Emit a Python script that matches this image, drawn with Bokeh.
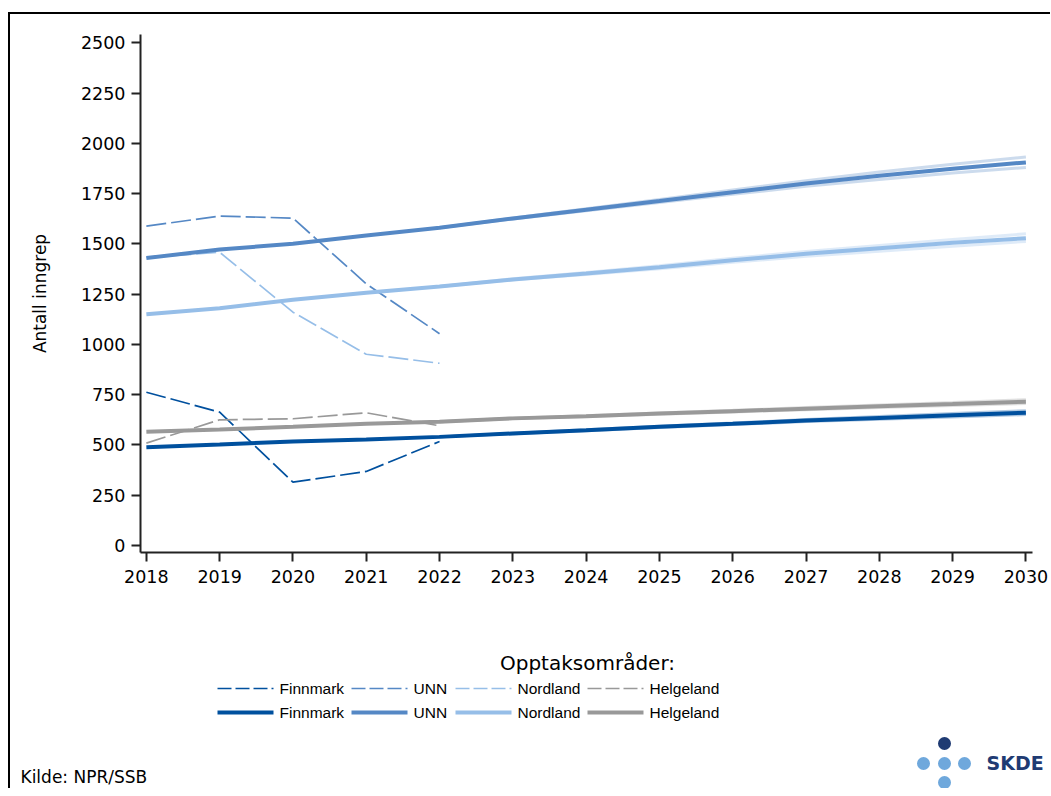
from bokeh.plotting import figure
from bokeh.models import Range1d, FixedTicker, Label
from bokeh.layouts import column
from bokeh.embed import file_html
from bokeh.resources import INLINE

# ---------------- data ----------------
regions = ["Finnmark", "UNN", "Nordland", "Helgeland"]
region_colors = ["#00509e", "#5588c5", "#96bee8", "#999999"]

obs_years = [2018, 2019, 2020, 2021, 2022]
obs_finnmark = [762, 663, 315, 368, 517]
obs_unn = [1588, 1638, 1628, 1301, 1053]
obs_nordland = [1432, 1458, 1160, 951, 906]
obs_helgeland = [509, 625, 630, 660, 595]

proj_years = [2018, 2019, 2020, 2021, 2022, 2023, 2024, 2025, 2026, 2027, 2028, 2029, 2030]
proj_finnmark = [489, 502, 517, 527, 540, 557, 573, 590, 605, 621, 634, 647, 660]
proj_unn = [1429, 1472, 1500, 1541, 1580, 1626, 1670, 1713, 1757, 1800, 1838, 1873, 1905]
proj_nordland = [1150, 1180, 1222, 1257, 1288, 1323, 1352, 1383, 1418, 1451, 1478, 1505, 1528]
proj_helgeland = [565, 577, 590, 605, 615, 632, 643, 656, 668, 680, 692, 703, 715]

# alternative projection paths (faint fan)
alt_years = [2022, 2023, 2024, 2025, 2026, 2027, 2028, 2029, 2030]
alt_hi_finnmark = [540, 558, 575, 593, 609, 626, 641, 656, 670]
alt_lo_finnmark = [540, 556, 571, 587, 601, 616, 628, 639, 651]
alt_hi_unn = [1580, 1628, 1674, 1721, 1768, 1814, 1857, 1896, 1932]
alt_lo_unn = [1580, 1624, 1665, 1705, 1746, 1786, 1820, 1852, 1880]
alt_hi_nordland = [1288, 1326, 1357, 1391, 1428, 1462, 1492, 1521, 1550]
alt_lo_nordland = [1288, 1321, 1347, 1376, 1408, 1438, 1463, 1488, 1512]
alt_hi_helgeland = [615, 633, 645, 659, 672, 686, 699, 711, 725]
alt_lo_helgeland = [615, 631, 641, 653, 664, 675, 686, 696, 706]

y_ticks = [0, 250, 500, 750, 1000, 1250, 1500, 1750, 2000, 2250, 2500]
x_ticks = proj_years

legend_title = "Opptaksområder:"
y_label = "Antall inngrep"
source_text = "Kilde: NPR/SSB"
logo_text = "SKDE"

obs = [obs_finnmark, obs_unn, obs_nordland, obs_helgeland]
proj = [proj_finnmark, proj_unn, proj_nordland, proj_helgeland]
alt_hi = [alt_hi_finnmark, alt_hi_unn, alt_hi_nordland, alt_hi_helgeland]
alt_lo = [alt_lo_finnmark, alt_lo_unn, alt_lo_nordland, alt_lo_helgeland]

FONT = "DejaVu Sans"
LEG_FONT = "Liberation Sans"
DASH = "20 5"
LEG_DASH = "14 4"

W = 1040

# ---------------- main chart ----------------
p = figure(width=W, height=600, output_backend="svg", toolbar_location=None,
           x_range=Range1d(2017.92, 2030.09), y_range=Range1d(-35, 2541),
           min_border_left=130, min_border_right=18, min_border_top=20, min_border_bottom=62)
p.frame_align = False
p.xgrid.visible = False
p.ygrid.visible = False
p.outline_line_color = None
p.background_fill_color = "white"
p.border_fill_color = "white"

for ys, c in zip(obs, region_colors):
    p.line(obs_years, ys, line_color=c, line_width=1.7, line_dash=DASH)

for hi, lo, c in zip(alt_hi, alt_lo, region_colors):
    p.line(alt_years, hi, line_color=c, line_width=3, line_alpha=0.3)
    p.line(alt_years, lo, line_color=c, line_width=3, line_alpha=0.3)

for ys, c in zip(proj, region_colors):
    p.line(proj_years, ys, line_color=c, line_width=4)

for ax in (p.xaxis[0], p.yaxis[0]):
    ax.axis_line_color = "#222222"
    ax.axis_line_width = 2
    ax.major_tick_line_color = "#222222"
    ax.major_tick_line_width = 2
    ax.major_tick_out = 9
    ax.major_tick_in = 0
    ax.minor_tick_line_color = None
    ax.major_label_text_font = FONT
    ax.major_label_text_font_size = "17.5px"
    ax.major_label_text_color = "black"

p.xaxis.ticker = FixedTicker(ticks=x_ticks)
p.yaxis.ticker = FixedTicker(ticks=y_ticks)
p.xaxis.major_label_standoff = 8
p.yaxis.major_label_standoff = 6
p.yaxis.axis_label = y_label
p.yaxis.axis_label_text_font = FONT
p.yaxis.axis_label_text_font_size = "17px"
p.yaxis.axis_label_text_font_style = "normal"
p.yaxis.axis_label_text_color = "black"
p.yaxis.axis_label_standoff = 28

# ---------------- legend / footer panel ----------------
# data units of this panel are its own pixel coordinates (x from left, y from top)
H2 = 174
q = figure(width=W, height=H2, output_backend="svg", toolbar_location=None,
           x_range=Range1d(0, W), y_range=Range1d(H2, 0),
           x_axis_location=None, y_axis_location=None,
           min_border_left=0, min_border_right=0, min_border_top=0, min_border_bottom=0)
q.frame_align = False
q.xgrid.visible = False
q.ygrid.visible = False
q.outline_line_color = None
q.border_fill_color = "white"
q.background_fill_color = "white"


def add_label(fig, x, y, text, font, size, align="left", color="black", style="normal"):
    fig.add_layout(Label(x=x, y=y, text=text, text_font=font, text_font_size=size,
                         text_align=align, text_baseline="middle", text_color=color,
                         text_font_style=style))


add_label(q, 577, 48, legend_title, FONT, "20px", align="center")

glyph_x0 = [207, 341, 445, 577]
row_y = [74, 98]
for i, (name, c) in enumerate(zip(regions, region_colors)):
    x0 = glyph_x0[i]
    q.line([x0, x0 + 56], [row_y[0], row_y[0]], line_color=c, line_width=1.7, line_dash=LEG_DASH)
    q.line([x0, x0 + 56], [row_y[1], row_y[1]], line_color=c, line_width=4)
    for ry in row_y:
        add_label(q, x0 + 62, ry, name, LEG_FONT, "15.5px")

add_label(q, 10, 162, source_text, FONT, "17px")

# SKDE logo
q.scatter(x=[934], y=[129], size=13, fill_color="#1f3b73", line_color=None)
q.scatter(x=[913, 934, 954, 934], y=[149, 149, 149, 168], size=13,
          fill_color="#6fa8dc", line_color=None)
add_label(q, 976, 148, logo_text, FONT, "19px", color="#1f3b73", style="bold")

layout = column(p, q, spacing=0,
                styles={"margin-top": "12px", "margin-left": "8px",
                        "border-top": "2px solid black", "border-left": "2px solid black"})

open("out.html", "w").write(file_html(layout, INLINE))
